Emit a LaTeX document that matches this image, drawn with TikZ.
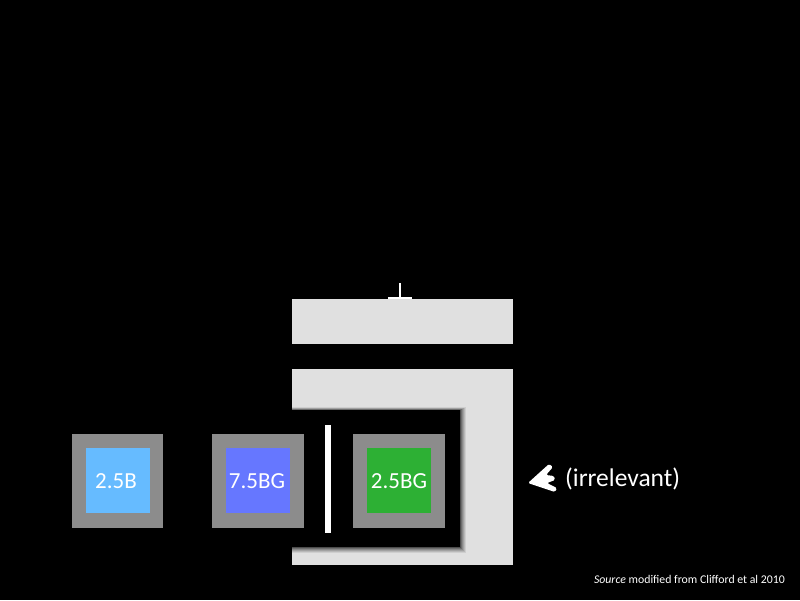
\documentclass[tikz,border=0pt]{standalone}
\usepackage{fontspec}
\setmainfont{Carlito}
\definecolor{lightg}{HTML}{E0E0E0}
\definecolor{frameg}{HTML}{8C8C8C}
\definecolor{sqA}{HTML}{66BBFF}
\definecolor{sqB}{HTML}{6677FF}
\definecolor{sqC}{HTML}{2DB034}
\tikzset{
  panel/.style={fill=lightg, draw=none},
  frame/.style={fill=frameg, draw=none},
  lbl/.style={text=white, font=\fontsize{23}{23}\selectfont, inner sep=0pt},
}
\begin{document}
\begin{tikzpicture}[x=1pt,y=-1pt]
\fill[black] (0,0) rectangle (800,600);
\useasboundingbox (0,0) rectangle (800,600);
% top bar
\fill[panel] (292,299) rectangle (513,344);
% T mark
\coordinate (tb) at (400,283);
\coordinate (tf) at (400,298);
\draw[white, line width=2.5pt] (tb) -- (tf);
\draw[white, line width=2pt] (388,298) -- (412,298);
% lower panel
\fill[panel] (292,369) rectangle (513,565);
% soft shadow of black inset
\foreach \o/\op in {6/0.08,5/0.10,4/0.12,3/0.15,2/0.2,1/0.3}{
  \fill[black, opacity=\op] (292,410-\o/2) rectangle (460+\o,547+\o);
}
\fill[black] (292,410) rectangle (460,547);
% white divider
\fill[white] (325,425) rectangle (331,533);
% squares
\fill[frame] (72,434) rectangle (163,528);
\fill[sqA] (86,448) rectangle (150,513);
\fill[frame] (212,434) rectangle (304,528);
\fill[sqB] (226,448) rectangle (290,513);
\fill[frame] (353,434) rectangle (445,528);
\fill[sqC] (367,448) rectangle (431,513);
\node[lbl] (lA) at (116,481) {2.5B};
\node[lbl] (lB) at (257,481) {7.5BG};
\node[lbl] (lC) at (399,481) {2.5BG};
% arrow
\fill[white, rounded corners=1.5pt] (528,483) -- (549,464) -- (553,467) -- (546,475)
  -- (554,476) -- (555,480) -- (547,483) -- (557,488) -- (555,492) -- cycle;
\node[anchor=west, text=white, font=\fontsize{25.5}{25.5}\selectfont, inner sep=0pt] (irr) at (565,479) {(irrelevant)};
% source
\node[anchor=east, text=white, font=\fontsize{11.8}{11.8}\selectfont, inner sep=0pt] (src) at (785,579) {\textit{Source} modified from Clifford et al 2010};
\end{tikzpicture}
\end{document}
